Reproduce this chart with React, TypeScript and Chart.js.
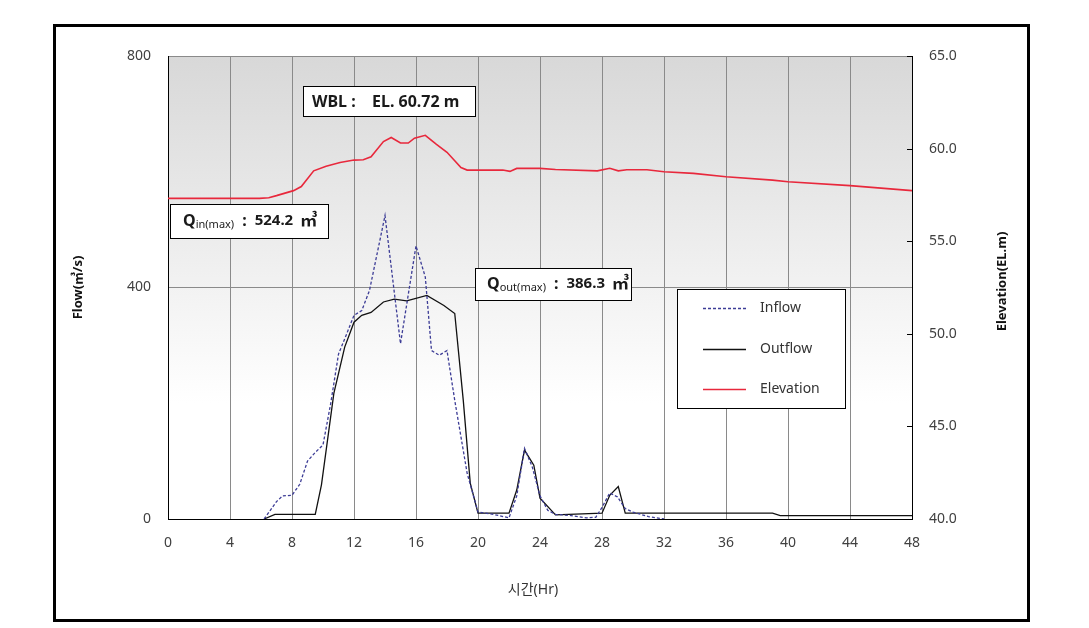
import { useEffect, useRef } from 'react';
import { Chart, registerables } from 'chart.js';

Chart.register(...registerables);

const FONT = '"Noto Sans", "Noto Sans CJK KR", sans-serif';

// Time axis ticks (hours)
const hourTicks = [0, 4, 8, 12, 16, 20, 24, 28, 32, 36, 40, 44, 48];

// Inflow (m3/s)
const inflowHours = [6.2, 6.6, 7.0, 7.4, 8.0, 8.5, 9.0, 9.5, 10.0, 10.5, 11.0, 11.5, 12.0, 12.5, 13.0, 14.0, 15.0, 16.0, 16.6, 17.0, 17.5, 18.0, 18.5, 19.3, 20.0, 21.0, 22.0, 22.5, 23.0, 23.5, 24.0, 24.5, 25.0, 26.0, 27.0, 27.6, 28.0, 28.5, 29.0, 29.5, 30.0, 30.5, 31.0, 31.5, 32.0];
const inflowFlow = [0, 15, 30, 40, 41, 60, 100, 115, 128, 200, 285, 318, 352, 360, 395, 524.2, 303, 472, 418, 291, 283, 291, 205, 79, 12, 8, 2, 40, 122, 90, 40, 15, 8, 6, 2, 3, 20, 45, 38, 18, 12, 8, 4, 2, 0];

// Outflow (m3/s)
const outflowHours = [6.2, 6.9, 9.5, 9.9, 10.7, 11.4, 12.0, 12.5, 13.1, 13.9, 14.6, 15.4, 16.7, 17.8, 18.5, 19.05, 19.5, 20.0, 22.0, 22.5, 23.0, 23.6, 24.0, 25.0, 28.0, 28.5, 29.05, 29.5, 39.0, 39.5, 48.0];
const outflowFlow = [0, 8, 8, 59, 217, 297, 340, 352, 357, 375, 380, 377, 386.3, 369, 355, 205, 62, 10, 10, 50, 119, 93, 36, 7, 10, 41, 56, 10, 10, 6, 6];

// Reservoir elevation (EL.m)
const elevHours = [0, 5.9, 6.5, 7.0, 8.1, 8.6, 9.4, 10.2, 11.1, 12.0, 12.6, 13.1, 13.9, 14.4, 15.0, 15.5, 15.9, 16.6, 17.3, 18.0, 18.9, 19.3, 21.6, 22.06, 22.5, 24.0, 25.0, 27.7, 28.5, 29.05, 29.6, 30.9, 32.0, 33.9, 36.0, 39.0, 40.0, 44.0, 48.0];
const elevLevel = [57.31, 57.31, 57.35, 57.46, 57.73, 57.95, 58.8, 59.05, 59.25, 59.38, 59.4, 59.56, 60.38, 60.6, 60.3, 60.3, 60.56, 60.72, 60.24, 59.8, 58.98, 58.84, 58.84, 58.77, 58.93, 58.93, 58.87, 58.8, 58.94, 58.8, 58.86, 58.86, 58.75, 58.66, 58.48, 58.3, 58.21, 58.0, 57.73];

const seriesNames = ['Inflow', 'Outflow', 'Elevation'];
const seriesColors = ['#3c3c96', '#111111', '#e8283c'];

const wblText = ['WBL :', 'EL. 60.72 m'];
const qInText = ['Q', 'in(max)', ':', '524.2', '㎥'];
const qOutText = ['Q', 'out(max)', ':', '386.3', '㎥'];
const axisTitles = ['Flow(㎥/s)', 'Elevation(EL.m)', '시간(Hr)'];

// annotation boxes in data units: [xFrom, xTo, flowTop, flowBottom]
const wblBox = [8.7, 19.8, 748, 697];
const qInBox = [0.13, 10.3, 545, 486];
const qOutBox = [19.8, 29.9, 434, 378];
const legendBox = [32.84, 43.68, 398, 191];

const pts = (xs: number[], ys: number[]) => xs.map((x, i) => ({ x, y: ys[i] }));

function boxPx(chart: any, b: number[]) {
  const xs = chart.scales.x;
  const ys = chart.scales.y;
  const l = Math.round(xs.getPixelForValue(b[0]));
  const r = Math.round(xs.getPixelForValue(b[1]));
  const t = Math.round(ys.getPixelForValue(b[2]));
  const btm = Math.round(ys.getPixelForValue(b[3]));
  return { l, r, t, b: btm };
}

function drawBox(ctx: CanvasRenderingContext2D, p: { l: number; r: number; t: number; b: number }) {
  ctx.fillStyle = '#ffffff';
  ctx.fillRect(p.l, p.t, p.r - p.l, p.b - p.t);
  ctx.strokeStyle = '#000000';
  ctx.lineWidth = 1;
  ctx.strokeRect(p.l + 0.5, p.t + 0.5, p.r - p.l, p.b - p.t);
}

function drawQ(ctx: CanvasRenderingContext2D, x: number, y: number, parts: string[]) {
  ctx.fillStyle = '#1a1a1a';
  ctx.textBaseline = 'middle';
  ctx.textAlign = 'left';
  ctx.font = `bold 16px ${FONT}`;
  ctx.fillText(parts[0], x, y);
  x += ctx.measureText(parts[0]).width;
  ctx.font = `11px ${FONT}`;
  ctx.fillText(parts[1], x, y + 4);
  x += ctx.measureText(parts[1]).width + 8;
  ctx.font = `bold 16px ${FONT}`;
  ctx.fillText(parts[2], x, y);
  x += ctx.measureText(parts[2]).width + 8;
  ctx.font = `bold 15px ${FONT}`;
  ctx.fillText(parts[3], x, y);
  x += ctx.measureText(parts[3]).width + 7;
  ctx.font = `bold 17px ${FONT}`;
  ctx.fillText(parts[4], x, y);
}

const overlay = {
  id: 'overlay',
  beforeDraw(chart: any) {
    const { ctx, chartArea: a } = chart;
    ctx.save();
    ctx.fillStyle = '#ffffff';
    ctx.fillRect(0, 0, chart.width, chart.height);
    const g = ctx.createLinearGradient(0, a.top, 0, a.bottom);
    g.addColorStop(0, '#d8d8d8');
    g.addColorStop(0.75, '#ffffff');
    g.addColorStop(1, '#ffffff');
    ctx.fillStyle = g;
    ctx.fillRect(a.left, a.top, a.right - a.left, a.bottom - a.top);
    ctx.restore();
  },
  afterDatasetsDraw(chart: any) {
    const { ctx, chartArea: a } = chart;
    ctx.save();
    // right-axis inner tick marks
    const y2 = chart.scales.y2;
    ctx.strokeStyle = '#000';
    ctx.lineWidth = 1;
    y2.ticks.forEach((t: any) => {
      const py = Math.round(y2.getPixelForValue(t.value)) + 0.5;
      ctx.beginPath();
      ctx.moveTo(a.right - 5, py);
      ctx.lineTo(a.right, py);
      ctx.stroke();
    });

    // WBL box
    const w = boxPx(chart, wblBox);
    drawBox(ctx, w);
    const wy = (w.t + w.b) / 2 + 1;
    ctx.fillStyle = '#1a1a1a';
    ctx.textBaseline = 'middle';
    ctx.textAlign = 'left';
    ctx.font = `bold 16px ${FONT}`;
    ctx.fillText(wblText[0], w.l + 9, wy);
    ctx.fillText(wblText[1], w.l + 69, wy);

    // Q boxes
    const qi = boxPx(chart, qInBox);
    drawBox(ctx, qi);
    drawQ(ctx, qi.l + 13, (qi.t + qi.b) / 2, qInText);
    const qo = boxPx(chart, qOutBox);
    drawBox(ctx, qo);
    drawQ(ctx, qo.l + 12, (qo.t + qo.b) / 2, qOutText);

    // legend
    const lg = boxPx(chart, legendBox);
    drawBox(ctx, lg);
    const rows = [19, 60, 100];
    chart.data.datasets.forEach((ds: any, i: number) => {
      const ry = lg.t + rows[i] + 0.5;
      ctx.strokeStyle = ds.borderColor;
      ctx.lineWidth = ds.borderWidth;
      ctx.setLineDash(ds.borderDash || []);
      ctx.beginPath();
      ctx.moveTo(lg.l + 26, ry);
      ctx.lineTo(lg.l + 69, ry);
      ctx.stroke();
      ctx.setLineDash([]);
      ctx.fillStyle = '#333333';
      ctx.font = `14px ${FONT}`;
      ctx.textBaseline = 'middle';
      ctx.fillText(ds.label, lg.l + 83, ry);
    });
    ctx.restore();
  },
  afterDraw(chart: any) {
    const { ctx, chartArea: a } = chart;
    ctx.save();
    // outer frame
    ctx.strokeStyle = '#000';
    ctx.lineWidth = 3;
    ctx.strokeRect(54.5, 25.5, 974, 595);
    // axis titles
    ctx.fillStyle = '#111';
    ctx.textAlign = 'center';
    ctx.textBaseline = 'middle';
    ctx.font = `bold 13px ${FONT}`;
    const cy = (a.top + a.bottom) / 2;
    ctx.save();
    ctx.translate(78, cy);
    ctx.rotate(-Math.PI / 2);
    ctx.fillText(axisTitles[0], 0, 0);
    ctx.restore();
    ctx.save();
    ctx.translate(1002, cy - 6);
    ctx.rotate(-Math.PI / 2);
    ctx.fillText(axisTitles[1], 0, 0);
    ctx.restore();
    ctx.fillStyle = '#333';
    ctx.font = `14px ${FONT}`;
    ctx.fillText(axisTitles[2], (a.left + a.right) / 2 - 7, 590);
    ctx.restore();
  },
};

export default function App() {
  const ref = useRef<HTMLCanvasElement>(null);
  useEffect(() => {
    const chart = new Chart(ref.current as HTMLCanvasElement, {
      type: 'line',
      data: {
        datasets: [
          {
            label: seriesNames[0],
            data: pts(inflowHours, inflowFlow),
            borderColor: seriesColors[0],
            borderWidth: 1.3,
            borderDash: [3, 2],
            pointRadius: 0,
            tension: 0,
            yAxisID: 'y',
          },
          {
            label: seriesNames[1],
            data: pts(outflowHours, outflowFlow),
            borderColor: seriesColors[1],
            borderWidth: 1.3,
            pointRadius: 0,
            tension: 0,
            yAxisID: 'y',
          },
          {
            label: seriesNames[2],
            data: pts(elevHours, elevLevel),
            borderColor: seriesColors[2],
            borderWidth: 1.6,
            pointRadius: 0,
            tension: 0,
            yAxisID: 'y2',
          },
        ],
      },
      options: {
        responsive: false,
        animation: false,
        devicePixelRatio: 1,
        layout: { padding: { top: 56, left: 0, right: 0, bottom: 0 } },
        plugins: {
          legend: { display: false },
          tooltip: { enabled: false },
        },
        scales: {
          x: {
            type: 'linear',
            min: 0,
            max: 48,
            afterBuildTicks: (s: any) => {
              s.ticks = hourTicks.map((v) => ({ value: v }));
            },
            afterFit: (s: any) => {
              s.height = 109;
            },
            ticks: {
              padding: 16,
              color: '#404040',
              font: { family: FONT, size: 14 },
              maxRotation: 0,
            },
            grid: { color: '#8a8a8a', lineWidth: 1, drawTicks: false },
            border: { color: '#000', width: 1 },
          },
          y: {
            position: 'left',
            min: 0,
            max: 800,
            ticks: {
              stepSize: 400,
              padding: 17,
              color: '#404040',
              font: { family: FONT, size: 14 },
            },
            afterFit: (s: any) => {
              s.width = 168;
            },
            grid: { color: '#8a8a8a', lineWidth: 1, drawTicks: false },
            border: { color: '#000', width: 1 },
          },
          y2: {
            position: 'right',
            min: 40,
            max: 65,
            ticks: {
              stepSize: 5,
              padding: 17,
              color: '#404040',
              font: { family: FONT, size: 14 },
              callback: (v: any) => Number(v).toFixed(1),
            },
            afterFit: (s: any) => {
              s.width = 177;
            },
            grid: { drawOnChartArea: false, drawTicks: false },
            border: { color: '#000', width: 1 },
          },
        },
      },
      plugins: [overlay],
    } as any);
    return () => chart.destroy();
  }, []);
  return (
    <div style={{ position: 'absolute', left: 0, top: 0, width: 1089, height: 628 }}>
      <canvas ref={ref} width={1089} height={628} style={{ display: 'block' }} />
    </div>
  );
}
